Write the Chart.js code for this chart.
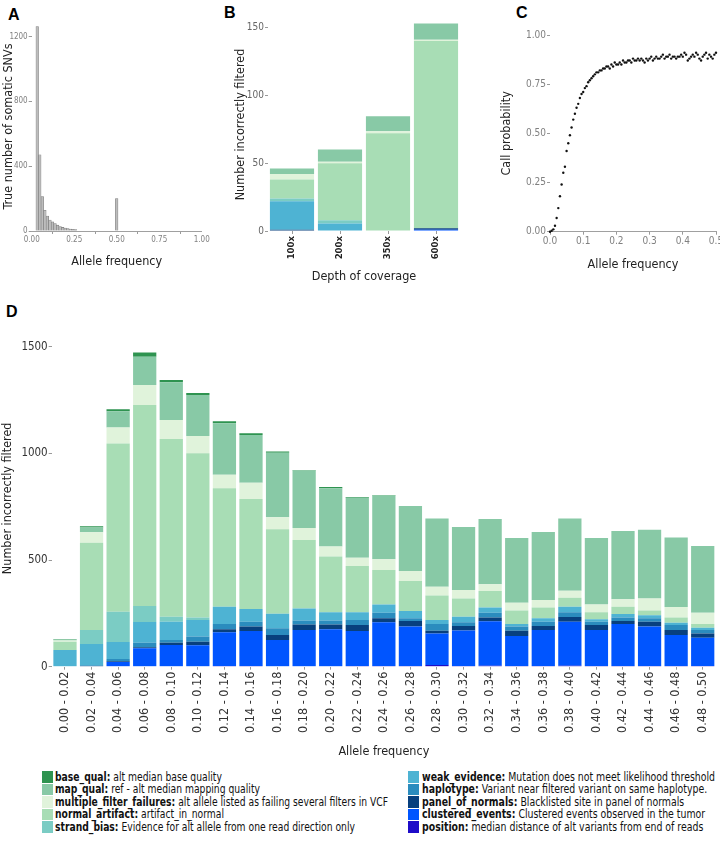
<!DOCTYPE html>
<html><head><meta charset="utf-8">
<script src="https://cdn.jsdelivr.net/npm/chart.js@4.4.1/dist/chart.umd.min.js"></script>
<style>
body{margin:0;background:#fff;width:720px;height:843px;position:relative;overflow:hidden;font-family:"DejaVu Sans Condensed","DejaVu Sans",sans-serif;}
canvas{position:absolute;}
.lab{position:absolute;font:bold 16px "Liberation Sans",Arial,sans-serif;color:#000;}
.leg{position:absolute;font-size:11.5px;line-height:12.5px;color:#111;}
.leg .row{height:12.5px;white-space:nowrap;position:relative;}
.leg .sw{position:absolute;left:0;top:0.5px;width:11px;height:11.5px}
.leg .tx{position:absolute;left:13.5px;top:0;transform-origin:0 50%;}
</style></head><body>
<div class="lab" style="left:8px;top:6px">A</div>
<div class="lab" style="left:224px;top:4px">B</div>
<div class="lab" style="left:516px;top:4px">C</div>
<div class="lab" style="left:6px;top:303px">D</div>
<canvas id="cA" width="215" height="275" style="left:0;top:0"></canvas>
<canvas id="cB" width="245" height="290" style="left:220px;top:0"></canvas>
<canvas id="cC" width="250" height="275" style="left:470px;top:0"></canvas>
<canvas id="cD" width="720" height="465" style="left:0;top:300px"></canvas>
<div class="leg" id="legL" style="left:41.7px;top:770.5px"></div>
<div class="leg" id="legR" style="left:408px;top:770.5px"></div>
<script>
// ---------- Panel A: histogram ----------
const histCenters = [0.0325,0.0475,0.0625,0.0775,0.0925,0.1075,0.1225,0.1375,0.1525,0.1675,0.1825,0.1975,0.2125,0.2275,0.2425,0.2575,0.5];
const histCounts  = [1262,470,212,128,92,68,56,46,36,28,22,18,15,12,10,8,200];
const aTicksY = [0,400,800,1200];
const aTicksX = [0,0.25,0.5,0.75,1];

// ---------- Panel B ----------
const depthLabels = ["100x","200x","350x","600x"];
const bPosition  = [0,0,0,0];
const bClustered = [0,0,0,1];
const bPON       = [1,0,0,1];
const bHaplotype = [0,0,0,0];
const bWeak      = [21,5.5,0,0];
const bStrand    = [2,2.5,0,0];
const bNormal    = [14,42,72,138];
const bMulti     = [4,1,1.5,1];
const bMap       = [4,9,11,12];
const bBase      = [0,0,0,0];
const bTicksY = [0,50,100,150];

// ---------- Panel C ----------
const cAF = [0.000,0.005,0.010,0.015,0.020,0.025,0.030,0.035,0.040,0.045,0.050,0.055,0.060,0.065,0.070,0.075,0.080,0.085,0.090,0.095,0.100,0.105,0.110,0.115,0.120,0.125,0.130,0.135,0.140,0.145,0.150,0.155,0.160,0.165,0.170,0.175,0.180,0.185,0.190,0.195,0.200,0.205,0.210,0.215,0.220,0.225,0.230,0.235,0.240,0.245,0.250,0.255,0.260,0.265,0.270,0.275,0.280,0.285,0.290,0.295,0.300,0.305,0.310,0.315,0.320,0.325,0.330,0.335,0.340,0.345,0.350,0.355,0.360,0.365,0.370,0.375,0.380,0.385,0.390,0.395,0.400,0.405,0.410,0.415,0.420,0.425,0.430,0.435,0.440,0.445,0.450,0.455,0.460,0.465,0.470,0.475,0.480,0.485,0.490,0.495,0.500];
const cProb = [0.00,0.005,0.012,0.03,0.07,0.12,0.18,0.24,0.30,0.33,0.41,0.45,0.49,0.53,0.57,0.60,0.63,0.65,0.68,0.70,0.71,0.73,0.74,0.76,0.77,0.78,0.79,0.80,0.81,0.81,0.82,0.82,0.83,0.83,0.84,0.84,0.83,0.85,0.84,0.86,0.85,0.85,0.86,0.85,0.87,0.86,0.86,0.87,0.87,0.86,0.88,0.87,0.87,0.88,0.87,0.88,0.87,0.86,0.88,0.87,0.88,0.89,0.87,0.88,0.89,0.88,0.88,0.89,0.90,0.88,0.89,0.89,0.90,0.88,0.89,0.89,0.88,0.89,0.89,0.90,0.89,0.91,0.90,0.87,0.88,0.89,0.90,0.89,0.91,0.90,0.88,0.87,0.89,0.90,0.91,0.88,0.90,0.89,0.88,0.90,0.91];
const cTicksX = [0,0.1,0.2,0.3,0.4,0.5];
const cTicksY = [0,0.25,0.5,0.75,1];

// ---------- Panel D ----------
const afBins = ["0.00 - 0.02","0.02 - 0.04","0.04 - 0.06","0.06 - 0.08","0.08 - 0.10","0.10 - 0.12","0.12 - 0.14","0.14 - 0.16","0.16 - 0.18","0.18 - 0.20","0.20 - 0.22","0.22 - 0.24","0.24 - 0.26","0.26 - 0.28","0.28 - 0.30","0.30 - 0.32","0.32 - 0.34","0.34 - 0.36","0.36 - 0.38","0.38 - 0.40","0.40 - 0.42","0.42 - 0.44","0.44 - 0.46","0.46 - 0.48","0.48 - 0.50"];
const dPosition  = [0,0,0,2,2,2,3,3,2,2,2,3,3,3,8,3,4,3,3,4,3,3,3,3,3];
const dClustered = [0,0,22,84,100,98,158,164,123,170,173,164,205,185,148,167,209,141,169,207,169,197,185,145,133];
const dPON       = [0,3,4,5,10,17,14,21,23,26,23,28,19,26,13,21,18,25,19,22,23,14,23,24,20];
const dHaplotype = [0,4,10,21,13,24,25,23,32,18,18,24,26,13,31,17,22,19,20,22,16,16,16,23,16];
const dWeak      = [78,99,80,97,86,78,81,59,68,57,39,36,38,34,19,26,24,12,16,26,11,17,14,11,11];
const dStrand    = [0,66,141,75,23,11,0,0,0,0,0,0,0,0,0,0,0,0,0,0,0,0,0,0,0];
const dNormal    = [39,409,789,943,833,770,555,516,396,321,261,217,162,141,115,86,78,63,51,42,33,34,22,24,17];
const dMulti     = [6,49,75,93,89,81,64,76,56,56,47,39,50,46,41,39,32,37,35,33,37,35,57,50,53];
const dMap       = [4,22,76,133,177,192,241,224,303,269,273,281,299,305,319,296,305,303,318,338,311,320,322,325,313];
const dBase      = [3,6,10,19,11,10,9,8,5,3,6,3,3,0,0,0,0,0,0,0,0,0,0,0,0];
const dTicksY = [0,500,1000,1500];

// ---------- Legend ----------
const filterNames = ["base_qual","map_qual","multiple_filter_failures","normal_artifact","strand_bias","weak_evidence","haplotype","panel_of_normals","clustered_events","position"];
const filterDescs = ["alt median base quality","ref - alt median mapping quality","alt allele listed as failing several filters in VCF","artifact_in_normal","Evidence for alt allele from one read direction only","Mutation does not meet likelihood threshold","Variant near filtered variant on same haplotype.","Blacklisted site in panel of normals","Clustered events observed in the tumor","median distance of alt variants from end of reads"];
const filterColors = {base_qual:"#2e9350",map_qual:"#88c9a6",multiple_filter_failures:"#e0f3db",normal_artifact:"#a8ddb5",strand_bias:"#7bccc4",weak_evidence:"#4eb3d3",haplotype:"#2b8cbe",panel_of_normals:"#08407e",clustered_events:"#0055ff",position:"#1e0cc8"};

const FF = '"DejaVu Sans Condensed","DejaVu Sans",sans-serif';
Chart.defaults.font.family = FF;
Chart.defaults.animation = false;
Chart.defaults.plugins.legend.display = false;
Chart.defaults.plugins.tooltip.enabled = false;
Chart.defaults.responsive = false;

function fixY(w, ticks){ return {
  afterFit(s){ s.width = w; s.paddingTop = 0; s.paddingBottom = 0; },
  afterBuildTicks(s){ if(ticks) s.ticks = ticks.map(v=>({value:v})); }
};}
function fixX(h, ticks){ return {
  afterFit(s){ s.height = h; s.paddingLeft = 0; s.paddingRight = 0; },
  afterBuildTicks(s){ if(ticks) s.ticks = ticks.map(v=>({value:v})); }
};}
const tickGrid = {display:true, drawOnChartArea:false, drawTicks:true, tickLength:3, color:'#9a9a9a'};
const plain = v=>String(v);

// Panel A
new Chart(document.getElementById('cA'), {
  type:'bar',
  data:{datasets:[{data: histCenters.map((x,i)=>({x:x,y:histCounts[i]})), backgroundColor:'#bdbdbd', borderColor:'#7a7a7a', borderWidth:0.6, barPercentage:1, categoryPercentage:1}]},
  options:{
    layout:{padding:{left:0,right:13.3,top:22,bottom:0}},
    scales:{
      x:Object.assign({type:'linear', min:0, max:1, offset:false, grid:tickGrid, border:{display:true,color:'#a0a0a0',width:1},
        ticks:{font:{size:8}, color:'#808080', padding:1, maxRotation:0, callback:v=>v.toFixed(2)},
        title:{display:true, text:'Allele frequency', font:{size:12.5}, color:'#222', padding:{top:0,bottom:5.8}}}, fixX(44, aTicksX)),
      y:Object.assign({min:0, max:1290, grid:tickGrid, border:{display:false},
        ticks:{font:{size:8}, color:'#808080', padding:1, callback:plain},
        title:{display:true, text:'True number of somatic SNVs', font:{size:12.5}, color:'#222', padding:{top:1.1,bottom:0}}}, fixY(31.7, aTicksY))
    }
  }
});

function stackSets(arrs){
  const keys = ["position","clustered_events","panel_of_normals","haplotype","weak_evidence","strand_bias","normal_artifact","multiple_filter_failures","map_qual","base_qual"];
  return keys.map((k,i)=>({label:k, data:arrs[i], backgroundColor:filterColors[k], borderWidth:0}));
}

// Panel B
new Chart(document.getElementById('cB'), {
  type:'bar',
  data:{labels:depthLabels, datasets: stackSets([bPosition,bClustered,bPON,bHaplotype,bWeak,bStrand,bNormal,bMulti,bMap,bBase]).map(d=>Object.assign(d,{barPercentage:1,categoryPercentage:0.92}))},
  options:{
    layout:{padding:{left:0,right:5,top:18,bottom:0}},
    scales:{
      x:Object.assign({stacked:true, grid:Object.assign({},tickGrid,{offset:false}), border:{display:false},
        ticks:{font:{size:9.5, weight:'bold'}, color:'#222', padding:2, minRotation:90, maxRotation:90},
        title:{display:true, text:'Depth of coverage', font:{size:12.5}, color:'#222', padding:{top:0,bottom:6.1}}}, fixX(59)),
      y:Object.assign({stacked:true, min:0, max:157, grid:tickGrid, border:{display:false},
        ticks:{font:{size:10}, color:'#666', padding:1, callback:plain},
        title:{display:true, text:'Number incorrectly filtered', font:{size:12.5}, color:'#222', padding:{top:12.8,bottom:0}}}, fixY(48, bTicksY))
    }
  }
});

// Panel C
new Chart(document.getElementById('cC'), {
  type:'scatter',
  data:{datasets:[{data: cAF.map((x,i)=>({x:x,y:cProb[i]})), backgroundColor:'#111', borderWidth:0, pointRadius:1.2}]},
  options:{
    clip:false,
    layout:{padding:{left:0,right:3.3,top:35,bottom:0}},
    scales:{
      x:Object.assign({type:'linear', min:0, max:0.5, grid:tickGrid, border:{display:true,color:'#a0a0a0',width:1},
        ticks:{font:{size:10}, color:'#808080', padding:1, maxRotation:0, callback:v=>v.toFixed(1)},
        title:{display:true, text:'Allele frequency', font:{size:12.5}, color:'#222', padding:{top:0,bottom:2.8}}}, fixX(43.3, cTicksX)),
      y:Object.assign({min:0, max:1, grid:tickGrid, border:{display:false},
        ticks:{font:{size:10}, color:'#808080', padding:1, callback:v=>v.toFixed(2)},
        title:{display:true, text:'Call probability', font:{size:12.5}, color:'#222', padding:{top:29.5,bottom:0}}}, fixY(80, cTicksY))
    }
  }
});

// Panel D
new Chart(document.getElementById('cD'), {
  type:'bar',
  data:{labels:afBins, datasets: stackSets([dPosition,dClustered,dPON,dHaplotype,dWeak,dStrand,dNormal,dMulti,dMap,dBase]).map(d=>Object.assign(d,{barPercentage:1,categoryPercentage:0.875}))},
  options:{
    layout:{padding:{left:0,right:4,top:30,bottom:0}},
    scales:{
      x:Object.assign({stacked:true, grid:Object.assign({},tickGrid,{offset:false}), border:{display:false},
        ticks:{font:{size:12.5}, color:'#333', padding:2, minRotation:90, maxRotation:90, autoSkip:false},
        title:{display:true, text:'Allele frequency', font:{size:12.5}, color:'#222', padding:{top:0,bottom:5.8}}}, fixX(98.3)),
      y:Object.assign({stacked:true, min:0, max:1578, grid:tickGrid, border:{display:false},
        ticks:{font:{size:11.5}, color:'#333', padding:1, callback:plain},
        title:{display:true, text:'Number incorrectly filtered', font:{size:12.5}, color:'#222', padding:{top:0,bottom:0}}}, fixY(51.7, dTicksY))
    }
  }
});

// Legend (HTML), text squeezed to the reference widths
function legendRows(el, names, targetW){
  const spans = [];
  names.forEach(n=>{
    const i = filterNames.indexOf(n);
    const row = document.createElement('div'); row.className='row';
    const sw = document.createElement('span'); sw.className='sw'; sw.style.background = filterColors[n];
    const tx = document.createElement('span'); tx.className='tx';
    const b = document.createElement('b'); b.textContent = n + ':';
    tx.appendChild(b); tx.appendChild(document.createTextNode(' ' + filterDescs[i]));
    row.appendChild(sw); row.appendChild(tx);
    el.appendChild(row); spans.push(tx);
  });
  const maxW = Math.max(...spans.map(s=>s.getBoundingClientRect().width));
  const k = targetW / maxW;
  spans.forEach(s=>{ s.style.transform = 'scaleX(' + k + ')'; });
}
legendRows(document.getElementById('legL'), filterNames.slice(0,5), 333);
legendRows(document.getElementById('legR'), filterNames.slice(5), 293);
</script>
</body></html>
